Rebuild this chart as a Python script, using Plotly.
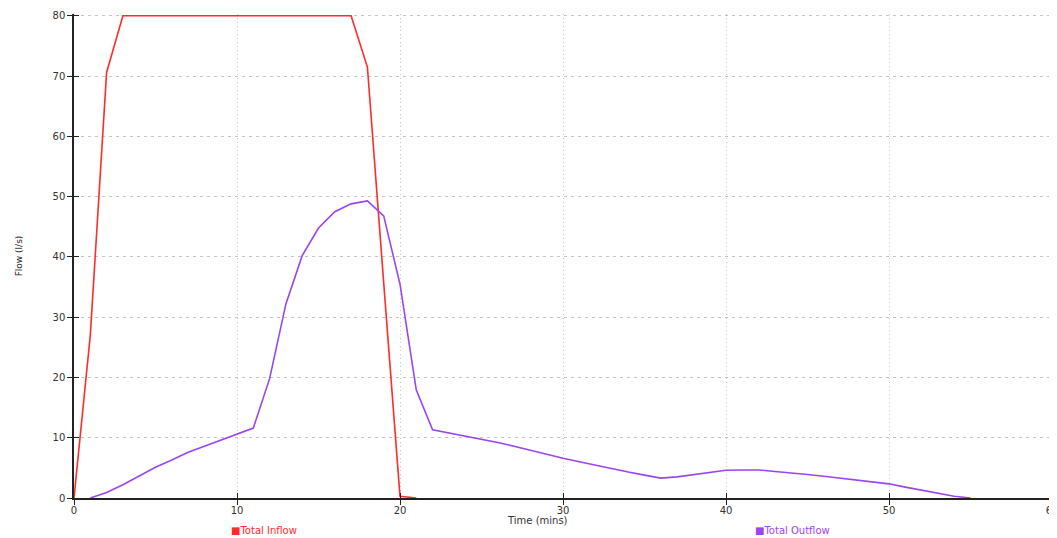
import plotly.graph_objects as go

time_in = [0, 1, 2, 3, 17, 18, 19, 20, 21]
total_inflow = [0, 27, 70.6, 80, 80, 71.5, 35.7, 0.3, 0]

time_out = list(range(1, 56))
total_outflow = [0, 0.9, 2.2, 3.7, 5.1, 6.3, 7.6, 8.6, 9.6, 10.5,
                 11.6, 19.8, 32.2, 40.2, 44.8, 47.5, 48.8, 49.3, 46.8, 35.5,
                 17.9, 11.3, 10.8, 10.3, 9.8, 9.2, 8.6, 7.9, 7.3, 6.6,
                 6.0, 5.4, 4.8, 4.3, 3.8, 3.3, 3.5, 3.9, 4.3, 4.6,
                 4.65, 4.65, 4.4, 4.2, 3.9, 3.6, 3.3, 3.0, 2.7, 2.35,
                 1.8, 1.3, 0.8, 0.3, 0]

x_ticks = [0, 10, 20, 30, 40, 50, 60]
y_ticks = [0, 10, 20, 30, 40, 50, 60, 70, 80]

RED = "#ff2a2a"
PURPLE = "#9b45ee"

# page body has an 8px margin; figure coordinates are offset accordingly
W, H = 1049, 530
L, R, T, B = 66, 5, 6, 40

fig = go.Figure()
fig.add_trace(go.Scatter(x=time_in, y=total_inflow, mode="lines", name="Total Inflow",
                         line=dict(color=RED, width=1.6), showlegend=False))
fig.add_trace(go.Scatter(x=time_out, y=total_outflow, mode="lines", name="Total Outflow",
                         line=dict(color=PURPLE, width=1.6), showlegend=False))
# invisible trace for secondary axes (inside ticks)
fig.add_trace(go.Scatter(x=[None], y=[None], xaxis="x2", yaxis="y2", showlegend=False,
                         hoverinfo="skip"))

font = dict(family="DejaVu Sans", size=10, color="#333333")
fig.update_layout(
    width=W, height=H,
    margin=dict(l=L, r=R, t=T, b=B, autoexpand=False),
    paper_bgcolor="white", plot_bgcolor="white",
    font=font,
    xaxis=dict(range=[0, 60], tickvals=x_ticks, showgrid=True, gridcolor="#c4c4c4",
               griddash="1px,3px", gridwidth=1, showline=True, linecolor="#222222", linewidth=1.5,
               ticks="outside", ticklen=5, tickcolor="#222222", zeroline=False,
               tickfont=font, automargin=False, ticklabeloverflow="allow",
               ticklabelstandoff=-3),
    yaxis=dict(range=[0, 80.3], tickvals=y_ticks, showgrid=True, gridcolor="#c4c4c4",
               griddash="3px,4px", gridwidth=1, showline=True, linecolor="#222222", linewidth=1.5,
               ticks="outside", ticklen=5, tickcolor="#222222", zeroline=False,
               tickfont=font, automargin=False, ticklabeloverflow="allow",
               title=dict(text="Flow (l/s)", font=dict(family="DejaVu Sans", size=9, color="#222222"), standoff=28)),
    xaxis2=dict(overlaying="x", matches="x", range=[0, 60], tickvals=x_ticks, showgrid=False,
                showticklabels=False, ticks="inside", ticklen=5, tickcolor="#222222",
                zeroline=False, showline=False),
    yaxis2=dict(overlaying="y", matches="y", range=[0, 80.3], tickvals=y_ticks, showgrid=False,
                showticklabels=False, ticks="inside", ticklen=5, tickcolor="#222222",
                zeroline=False, showline=False),
    annotations=[
        dict(text="Time (mins)", x=529, y=512, xanchor="center",
             xref="paper", yref="paper", showarrow=False, font=font),
        dict(text="<span style='font-size:10px'>■</span>Total Inflow", x=221, y=522, xanchor="left",
             xref="paper", yref="paper", showarrow=False, font=dict(family="DejaVu Sans", size=10, color=RED)),
        dict(text="<span style='font-size:10px'>■</span>Total Outflow", x=745, y=522, xanchor="left",
             xref="paper", yref="paper", showarrow=False, font=dict(family="DejaVu Sans", size=10, color=PURPLE)),
    ],
)
# convert pixel positions of annotations to paper coords
pw, ph = W - L - R, H - T - B
for ann in fig.layout.annotations:
    px, py = ann.x, ann.y
    ann.x = (px - L) / pw
    ann.y = (H - B - py) / ph
    ann.yanchor = "middle"

fig.write_html("out.html")
